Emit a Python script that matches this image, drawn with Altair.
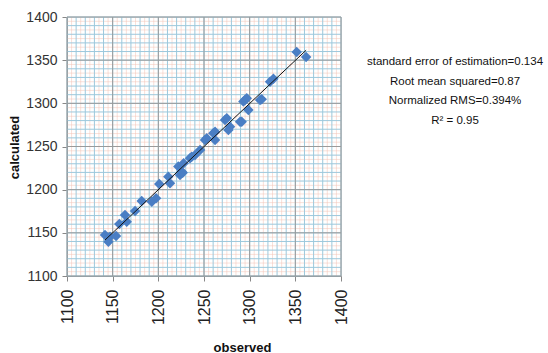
import altair as alt
import pandas as pd

# Observed vs. calculated values
observed = [
    1141.6, 1145.3, 1147.1, 1153.7, 1157.3, 1163.5, 1165.4, 1174.5, 1181.8,
    1192.8, 1197.5, 1201.0, 1210.9, 1212.8, 1221.9, 1223.7, 1225.6, 1226.7,
    1227.7, 1234.7, 1236.5, 1240.2, 1245.7, 1251.1, 1253.0, 1260.2, 1262.1,
    1262.1, 1273.0, 1274.9, 1276.7, 1278.5, 1289.5, 1291.3, 1293.1, 1294.9,
    1296.8, 1298.6, 1311.4, 1313.2, 1322.3, 1326.0, 1351.5, 1361.8,
]
calculated = [
    1147.5, 1139.7, 1145.5, 1146.3, 1160.3, 1170.7, 1162.9, 1175.3, 1186.9,
    1186.1, 1190.0, 1206.6, 1215.1, 1207.4, 1226.7, 1217.0, 1220.9, 1219.7,
    1230.6, 1236.4, 1238.2, 1240.2, 1246.0, 1257.6, 1259.6, 1265.3, 1267.2,
    1257.6, 1280.8, 1282.7, 1269.1, 1273.0, 1278.8, 1278.8, 1302.0, 1303.9,
    1305.9, 1292.4, 1303.9, 1304.7, 1325.1, 1328.4, 1359.4, 1353.7,
]

# Statistics printed beside the plot
stats_lines = [
    "standard error of estimation=0.134",
    "Root mean squared=0.87",
    "Normalized RMS=0.394%",
    "R\u00b2 = 0.95",
]

axis_min, axis_max = 1100, 1400
W, H = 274, 259

df = pd.DataFrame({"observed": observed, "calculated": calculated})
xs = alt.Scale(domain=[axis_min, axis_max], nice=False, zero=False)
ys = alt.Scale(domain=[axis_min, axis_max], nice=False, zero=False)

FONT = "Liberation Sans"
tick_vals = list(range(axis_min, axis_max + 1, 50))

x_axis = alt.Axis(values=tick_vals, format="d", labelAngle=-90,
                  labelFont=FONT, labelFontSize=16, labelColor="#222",
                  labelPadding=8, tickSize=5, tickColor="#888", domainColor="#888",
                  grid=False, titleFont=FONT, titleFontSize=13, titleFontWeight="bold",
                  titleColor="#111", titleX=175, titleY=71, titleBaseline="middle")
y_axis = alt.Axis(values=tick_vals, format="d",
                  labelFont=FONT, labelFontSize=14, labelColor="#333",
                  labelPadding=5, tickSize=5, tickColor="#888", domainColor="#888",
                  grid=False, titleFont=FONT, titleFontSize=13, titleFontWeight="bold",
                  titleColor="#111", titleX=-53, titleY=130, titleAngle=270,
                  titleAlign="center", titleBaseline="middle")


def X(field):
    return alt.X(field, scale=xs, axis=x_axis, title="observed")


def Y(field):
    return alt.Y(field, scale=ys, axis=y_axis, title="calculated")


# Graph-paper grid: blue every 10, faint pink halfway between, grey every 50
def grid(start, step, color, opacity):
    seq = alt.sequence(start, axis_max + 1, step, as_="v")
    vx = alt.Chart(seq).mark_rule(color=color, strokeWidth=1, opacity=opacity).encode(x=X("v:Q"))
    hy = alt.Chart(seq).mark_rule(color=color, strokeWidth=1, opacity=opacity).encode(y=Y("v:Q"))
    return vx + hy


pink = grid(axis_min + 5, 10, "#f3c4b6", 0.5)
blue = grid(axis_min, 10, "#9cc8dc", 1.0)
major = grid(axis_min, 50, "#9a9a9a", 1.0)

points = alt.Chart(df).mark_point(
    shape="diamond", filled=True, size=110, color="#4a7ec4", opacity=1
).encode(x=X("observed:Q"), y=Y("calculated:Q"))

trend = alt.Chart(df).transform_regression(
    "observed", "calculated"
).mark_line(color="#111", strokeWidth=1).encode(x=X("observed:Q"), y=Y("calculated:Q"))

# One text mark per statistics line, stacked in the right margin
stats = [
    alt.Chart(pd.DataFrame({"line": [txt]})).mark_text(
        font=FONT, fontSize=11.5, color="#111", align="center", baseline="middle"
    ).encode(x=alt.value(388), y=alt.value(45 + 19.5 * i), text="line:N")
    for i, txt in enumerate(stats_lines)
]

chart = alt.layer(pink, blue, major, points, trend, *stats).properties(
    width=W, height=H,
    autosize=alt.AutoSizeParams(type="none"),
    padding={"left": 67, "top": 17, "right": 548 - 67 - W, "bottom": 353 - 17 - H},
).configure_view(stroke="#bbb").configure(background="white")

chart.save("out.html", embed_options={"renderer": "svg", "actions": False})
